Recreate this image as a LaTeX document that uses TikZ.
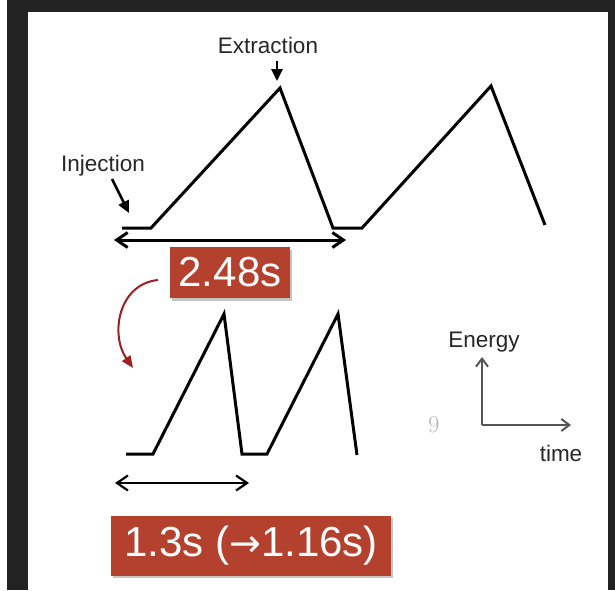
\documentclass[tikz,border=0pt]{standalone}
\usepackage{fontspec}
\newfontfamily\labelfont{Liberation Sans}
\newfontfamily\arrowfont{DejaVu Sans}
\usetikzlibrary{arrows.meta,shadows}
\definecolor{boxred}{HTML}{B4412E}
\definecolor{curvered}{HTML}{A01E22}
\definecolor{darkbg}{HTML}{232323}
\definecolor{axisgray}{HTML}{555555}
\begin{document}
\begin{tikzpicture}[x=1pt,y=-1pt,
  wave/.style={line width=3pt,line join=miter,line cap=butt},
  lbl/.style={font=\labelfont\fontsize{22.5}{22.5}\selectfont,inner sep=0pt,text=black!85},
  timebox/.style={fill=boxred,text=white,inner sep=0pt,
    font=\labelfont\fontsize{42}{42}\selectfont,
    drop shadow={opacity=0.45,shadow xshift=1.5pt,shadow yshift=-2.5pt}},
  pointer/.style={line width=2.5pt,-{Triangle[length=12pt,width=11pt]}},
  span/.style={{Straight Barb[length=11pt,width=15pt]}-{Straight Barb[length=11pt,width=15pt]}},
  axis/.style={draw=axisgray,line width=2pt,-{Straight Barb[length=8pt,width=12pt]}}]
\useasboundingbox (0,0) rectangle (615,590);
\fill[darkbg] (0,0) rectangle (615,590);
\fill[white] (0,0) rectangle (7,590);
\fill[white] (28,12) rectangle (608,590);

% top waveform
\coordinate (a0) at (122,228);
\coordinate (a1) at (151,228);
\coordinate (a2) at (280,88);
\coordinate (a3) at (333,228);
\coordinate (a4) at (362,228);
\coordinate (a5) at (491,86);
\coordinate (a6) at (545,225);
\draw[wave] (a0) -- (a1) -- (a2) -- (a3) -- (a4) -- (a5) -- (a6);

% labels with pointers
\node[lbl] (ext) at (268,45) {Extraction};
\coordinate (extS) at (277,61);
\coordinate (extT) at (277,81);
\draw[pointer] (extS) -- (extT);
\node[lbl] (inj) at (103,166) {Injection};
\coordinate (injS) at (112,179);
\coordinate (injT) at (129,213);
\draw[pointer] (injS) -- (injT);

% top span
\coordinate (s1a) at (114,240);
\coordinate (s1b) at (346,240);
\draw[span,line width=3pt] (s1a) -- (s1b);
\node[timebox,minimum width=120pt,minimum height=51pt] (t1) at (230,272.5) {2.48s};

% red curved arrow
\coordinate (c0) at (158,280);
\coordinate (c1) at (133,368);
\draw[curvered,line width=2pt,-{Triangle[length=12pt,width=10pt]}] (c0) .. controls (118,284) and (110,335) .. (c1);

% lower waveform
\coordinate (b0) at (126,454);
\coordinate (b1) at (153,454);
\coordinate (b2) at (224,314);
\coordinate (b3) at (242,454);
\coordinate (b4) at (267,454);
\coordinate (b5) at (338,314);
\coordinate (b6) at (357,455);
\draw[wave] (b0) -- (b1) -- (b2) -- (b3) -- (b4) -- (b5) -- (b6);

% lower span
\coordinate (s2a) at (115,483);
\coordinate (s2b) at (249,483);
\draw[span,line width=2.2pt] (s2a) -- (s2b);
\node[timebox,minimum width=280pt,minimum height=60pt] (t2) at (251,545.5) {1.3s ({\arrowfont\fontsize{38}{38}\selectfont →}1.16s)};

% axes
\coordinate (o) at (482,425);
\coordinate (ytip) at (482,357);
\coordinate (xtip) at (571,425);
\draw[axis] (o) -- (ytip);
\draw[axis] (o) -- (xtip);
\node[lbl] (energy) at (484,342) {Energy};
\node[lbl] (time) at (561,453) {time};
\node[font=\fontsize{24}{24}\selectfont,text=black!30,inner sep=0pt] (pg) at (434,425) {9};
\end{tikzpicture}
\end{document}
